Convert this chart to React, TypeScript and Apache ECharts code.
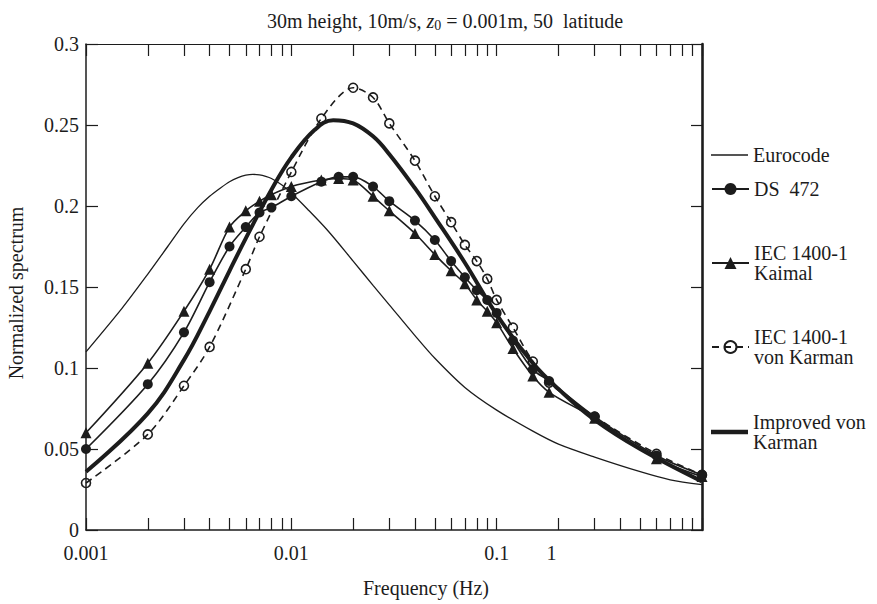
import React, { useEffect, useRef } from "react";
import * as echarts from "echarts";

// ---- data ----
const FREQ = [0.001, 0.002, 0.003, 0.004, 0.005, 0.006, 0.007, 0.008, 0.01, 0.014, 0.017, 0.02, 0.025, 0.03, 0.04, 0.05, 0.06, 0.07, 0.08, 0.09, 0.1, 0.12, 0.15, 0.18, 0.3, 0.6, 1.0];
const DS472 = [0.05, 0.09, 0.122, 0.153, 0.175, 0.187, 0.196, 0.199, 0.206, 0.215, 0.218, 0.218, 0.212, 0.203, 0.191, 0.179, 0.166, 0.156, 0.148, 0.142, 0.134, 0.117, 0.099, 0.092, 0.07, 0.046, 0.034];
const KAIMAL = [0.06, 0.103, 0.135, 0.161, 0.187, 0.197, 0.203, 0.207, 0.212, 0.216, 0.217, 0.216, 0.206, 0.197, 0.183, 0.17, 0.16, 0.152, 0.142, 0.135, 0.128, 0.112, 0.095, 0.085, 0.069, 0.044, 0.033];

const VK_FREQ = [0.001, 0.002, 0.003, 0.004, 0.006, 0.007, 0.01, 0.014, 0.02, 0.025, 0.03, 0.04, 0.05, 0.06, 0.07, 0.08, 0.09, 0.1, 0.12, 0.15, 0.18, 0.3, 0.6, 1.0];
const VON_KARMAN = [0.029, 0.059, 0.089, 0.113, 0.161, 0.181, 0.221, 0.254, 0.273, 0.267, 0.251, 0.228, 0.206, 0.19, 0.176, 0.166, 0.155, 0.142, 0.125, 0.104, 0.091, 0.07, 0.047, 0.034];

const IMPROVED_FREQ = [0.001, 0.002, 0.003, 0.004, 0.005, 0.006, 0.008, 0.01, 0.013, 0.016, 0.02, 0.025, 0.03, 0.04, 0.05, 0.07, 0.1, 0.15, 0.2, 0.3, 0.5, 1.0];
const IMPROVED = [0.036, 0.072, 0.105, 0.135, 0.16, 0.18, 0.21, 0.23, 0.247, 0.253, 0.251, 0.243, 0.232, 0.211, 0.193, 0.165, 0.133, 0.103, 0.087, 0.068, 0.05, 0.03];

const EURO_FREQ = [0.001, 0.0015, 0.002, 0.0025, 0.003, 0.0035, 0.004, 0.0045, 0.005, 0.0055, 0.006, 0.0065, 0.007, 0.0075, 0.008, 0.009, 0.01, 0.012, 0.015, 0.02, 0.025, 0.03, 0.04, 0.05, 0.07, 0.1, 0.15, 0.2, 0.3, 0.5, 0.7, 1.0];
const EUROCODE = [0.11, 0.137, 0.158, 0.175, 0.189, 0.199, 0.206, 0.211, 0.215, 0.2175, 0.219, 0.2195, 0.2192, 0.2183, 0.217, 0.213, 0.208, 0.198, 0.185, 0.166, 0.151, 0.139, 0.12, 0.106, 0.088, 0.074, 0.061, 0.053, 0.045, 0.036, 0.031, 0.028];

const X_TICKS = [
  0.001, 0.002, 0.003, 0.004, 0.005, 0.006, 0.007, 0.008, 0.009,
  0.01, 0.02, 0.03, 0.04, 0.05, 0.06, 0.07, 0.08, 0.09,
  0.1, 0.2, 0.3, 0.4, 0.5, 0.6, 0.7, 0.8, 0.9, 1.0,
];
const X_LABEL_VALUES = [0.001, 0.01, 0.1, 0.185];
const X_LABEL_TEXTS = ["0.001", "0.01", "0.1", "1"];

const NAMES = ["Eurocode", "DS  472", "IEC 1400-1\nKaimal", "IEC 1400-1\nvon Karman", "Improved von\nKarman"];

const FONT = "'Liberation Serif', 'Times New Roman', serif";
const INK = "#1c1c1c";

const zip = (xs: number[], ys: number[]) => xs.map((x, i) => [x, ys[i]]);

export default function App() {
  const ref = useRef<HTMLDivElement>(null);
  useEffect(() => {
    const chart = echarts.init(ref.current!, null, { renderer: "svg" });
    const logAxisBase = {
      type: "log",
      logBase: 10,
      min: 0.001,
      max: 1,
      splitLine: { show: false },
      minorTick: { show: false },
      axisTick: { show: true, inside: true, length: 12, customValues: X_TICKS, lineStyle: { color: INK, width: 1.2 } },
    };
    const legendBase = {
      orient: "vertical",
      left: 711,
      padding: 0,
      itemWidth: 37,
      itemHeight: 15,
      selectedMode: false,
      textStyle: { fontFamily: FONT, fontSize: 20, color: INK, lineHeight: 20 },
    };
    const legends = [
      { ...legendBase, top: 145, itemHeight: 1.6, data: [{ name: NAMES[0], icon: "rect" }] },
      { ...legendBase, top: 179, data: [NAMES[1]] },
      { ...legendBase, top: 243, data: [NAMES[2]] },
      { ...legendBase, top: 327, data: [NAMES[3]] },
      { ...legendBase, top: 412, itemHeight: 4.5, data: [{ name: NAMES[4], icon: "rect" }] },
    ];
    const option: any = {
      animation: false,
      title: {
        text: "30m height, 10m/s, {i|z}{s|0} = 0.001m, 50  latitude",
        left: 262,
        top: 4,
        textStyle: {
          fontFamily: FONT,
          fontSize: 20,
          fontWeight: "normal",
          color: INK,
          rich: {
            i: { fontFamily: FONT, fontSize: 20, fontStyle: "italic", color: INK },
            s: { fontFamily: FONT, fontSize: 14, color: INK, padding: [9, 0, 0, 0] },
          },
        },
      },
      grid: { left: 86, right: 175, top: 44, bottom: 74 },
      legend: legends,
      xAxis: [
        {
          ...logAxisBase,
          position: "bottom",
          axisLine: { show: true, onZero: false, lineStyle: { color: INK, width: 1.5 } },
          axisLabel: {
            customValues: X_LABEL_VALUES,
            margin: 13,
            fontFamily: FONT,
            fontSize: 20,
            color: INK,
            formatter: (v: number) => {
              let best = 0;
              X_LABEL_VALUES.forEach((lv, i) => {
                if (Math.abs(Math.log10(lv) - Math.log10(v)) < Math.abs(Math.log10(X_LABEL_VALUES[best]) - Math.log10(v))) best = i;
              });
              return X_LABEL_TEXTS[best];
            },
          },
        },
        {
          ...logAxisBase,
          position: "top",
          axisLine: { show: true, onZero: false, lineStyle: { color: INK, width: 1.2 } },
          axisLabel: { show: false },
        },
      ],
      yAxis: [
        {
          type: "value",
          min: 0,
          max: 0.3,
          interval: 0.05,
          position: "left",
          splitLine: { show: false },
          axisLine: { show: true, onZero: false, lineStyle: { color: INK, width: 1.5 } },
          axisTick: { show: true, inside: true, length: 12, lineStyle: { color: INK, width: 1.2 } },
          axisLabel: { margin: 7, fontFamily: FONT, fontSize: 20, color: INK },
        },
        {
          type: "value",
          min: 0,
          max: 0.3,
          interval: 0.05,
          position: "right",
          splitLine: { show: false },
          axisLine: { show: true, onZero: false, lineStyle: { color: INK, width: 2.6 } },
          axisTick: { show: true, inside: true, length: 11, lineStyle: { color: INK, width: 1.2 } },
          axisLabel: { show: false },
        },
      ],
      graphic: [
        {
          type: "text",
          x: 426,
          y: 588,
          style: { text: "Frequency (Hz)", fontFamily: FONT, fontSize: 20, fill: INK, align: "center", verticalAlign: "middle" },
        },
        {
          type: "text",
          x: 16,
          y: 293,
          rotation: Math.PI / 2,
          style: { text: "Normalized spectrum", fontFamily: FONT, fontSize: 20, fill: INK, align: "center", verticalAlign: "middle" },
        },
      ],
      series: [
        {
          name: NAMES[0],
          type: "line",
          data: zip(EURO_FREQ, EUROCODE),
          smooth: 0.3,
          symbol: "none",
          lineStyle: { color: INK, width: 1.3 },
          itemStyle: { color: INK },
        },
        {
          name: NAMES[1],
          type: "line",
          data: zip(FREQ, DS472),
          smooth: 0.3,
          symbol: "circle",
          symbolSize: 10,
          lineStyle: { color: INK, width: 1.6 },
          itemStyle: { color: INK },
        },
        {
          name: NAMES[2],
          type: "line",
          data: zip(FREQ, KAIMAL),
          smooth: 0.3,
          symbol: "triangle",
          symbolSize: 11,
          lineStyle: { color: INK, width: 1.6 },
          itemStyle: { color: INK },
        },
        {
          name: NAMES[3],
          type: "line",
          data: zip(VK_FREQ, VON_KARMAN),
          smooth: 0.3,
          symbol: "circle",
          symbolSize: 9,
          lineStyle: { color: INK, width: 1.6, type: [7, 5] },
          itemStyle: { color: "rgba(255,255,255,0)", borderColor: INK, borderWidth: 1.6 },
        },
        {
          name: NAMES[4],
          type: "line",
          data: zip(IMPROVED_FREQ, IMPROVED),
          smooth: 0.4,
          symbol: "none",
          lineStyle: { color: INK, width: 4 },
          itemStyle: { color: INK },
        },
      ],
    };
    chart.setOption(option);
    return () => chart.dispose();
  }, []);
  return <div ref={ref} style={{ position: "absolute", left: 0, top: 0, width: 877, height: 604, background: "#fff" }} />;
}
